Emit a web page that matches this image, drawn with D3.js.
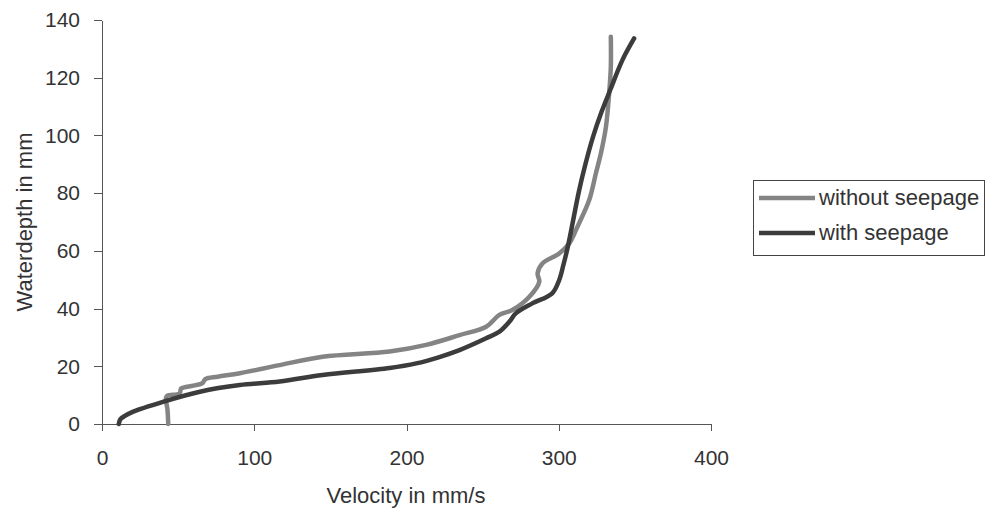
<!DOCTYPE html>
<html>
<head>
<meta charset="utf-8">
<script src="https://cdn.jsdelivr.net/npm/d3@7"></script>
<style>
  body { margin: 0; background: #fff; }
  svg { display: block; font-family: "Liberation Sans", Arial, sans-serif; }
  .axis path, .axis line { stroke: #555; shape-rendering: crispEdges; }
  .axis text { fill: #333; font-size: 21px; }
</style>
</head>
<body>
<div id="chart"></div>
<script>
// velocity (mm/s) and water depth (mm)
var withoutVelocity = [43.5, 43, 42, 43, 51, 52, 60, 66, 68, 76, 90.5, 116.7, 144.9, 188.9, 212.9, 234.8, 252.3, 261, 269.5, 280.7, 287.2, 286.1, 289.4, 300.3, 306.9, 311.3, 313.4, 320, 324.4, 327.7, 331, 333.1, 334.2, 334.2];
var withoutDepth = [0, 5, 9, 9.8, 10.6, 12.3, 13.3, 14.2, 15.6, 16.4, 17.6, 20.4, 23.3, 25.1, 27.4, 30.8, 33.7, 37.8, 39.5, 44.1, 49.3, 52.2, 55.7, 59.1, 62.6, 67.2, 69.6, 77.6, 86.9, 93.8, 103, 114.6, 123.8, 134.2];

var withVelocity = [11, 12, 15, 20.5, 40, 64.3, 90.5, 116.7, 144.9, 188.9, 206.4, 221.6, 234.8, 252.3, 261, 267.5, 271.9, 282.6, 295.7, 300.3, 303, 306, 309.5, 313.2, 317.5, 322.5, 328, 334, 341.8, 349.5];
var withDepth = [0, 1.6, 2.8, 4.3, 7.7, 11.2, 13.5, 14.7, 17, 19.4, 21, 23.2, 25.6, 29.7, 32, 35.4, 38.4, 41.8, 45.3, 49.9, 55, 61.5, 70.7, 80.5, 90, 99.5, 108, 116, 126.1, 133.6];

var seriesNames = ["without seepage", "with seepage"];
var seriesColors = ["#848484", "#3c3c3c"];
var xTicks = [0, 100, 200, 300, 400];
var yTicks = [0, 20, 40, 60, 80, 100, 120, 140];

var width = 985, height = 509;

var svg = d3.select("#chart").append("svg")
    .attr("width", width)
    .attr("height", height);

var x = d3.scaleLinear().domain([0, 400]).range([102, 711]);
var y = d3.scaleLinear().domain([0, 140]).range([424, 20]);

svg.append("g")
    .attr("class", "axis")
    .attr("transform", "translate(0," + y(0) + ")")
    .call(d3.axisBottom(x).tickValues(xTicks).tickSize(7).tickSizeOuter(0).tickPadding(19));

svg.append("g")
    .attr("class", "axis")
    .attr("transform", "translate(" + x(0) + ",0)")
    .call(d3.axisLeft(y).tickValues(yTicks).tickSize(8).tickSizeOuter(0).tickPadding(14));

svg.append("text")
    .attr("x", 406)
    .attr("y", 503)
    .attr("text-anchor", "middle")
    .style("font-size", "22px")
    .style("fill", "#333")
    .text("Velocity in mm/s");

svg.append("text")
    .attr("transform", "translate(32,222)rotate(-90)")
    .attr("text-anchor", "middle")
    .style("font-size", "22px")
    .style("fill", "#333")
    .text("Waterdepth in mm");

var series = [
    d3.zip(withoutVelocity, withoutDepth),
    d3.zip(withVelocity, withDepth)
];

var line = d3.line()
    .curve(d3.curveCatmullRom.alpha(0.5))
    .x(function (d) { return x(d[0]); })
    .y(function (d) { return y(d[1]); });

svg.append("g")
    .selectAll("path")
    .data(series)
    .enter().append("path")
    .attr("d", line)
    .attr("fill", "none")
    .attr("stroke", function (d, i) { return seriesColors[i]; })
    .attr("stroke-width", 4.5)
    .attr("stroke-linejoin", "round")
    .attr("stroke-linecap", "round");

// legend
var legend = svg.append("g");

legend.append("rect")
    .attr("x", 753.5)
    .attr("y", 180.5)
    .attr("width", 231)
    .attr("height", 75)
    .attr("fill", "#fff")
    .attr("stroke", "#444")
    .attr("stroke-width", 1);

var items = legend.selectAll(".item")
    .data(seriesNames)
    .enter().append("g")
    .attr("class", "item")
    .attr("transform", function (d, i) { return "translate(0," + (198 + i * 35) + ")"; });

items.append("line")
    .attr("x1", 759)
    .attr("x2", 815)
    .attr("stroke", function (d, i) { return seriesColors[i]; })
    .attr("stroke-width", 4.5);

items.append("text")
    .attr("x", 819)
    .attr("y", 7)
    .style("font-size", "22px")
    .style("fill", "#333")
    .text(function (d) { return d; });
</script>
</body>
</html>
